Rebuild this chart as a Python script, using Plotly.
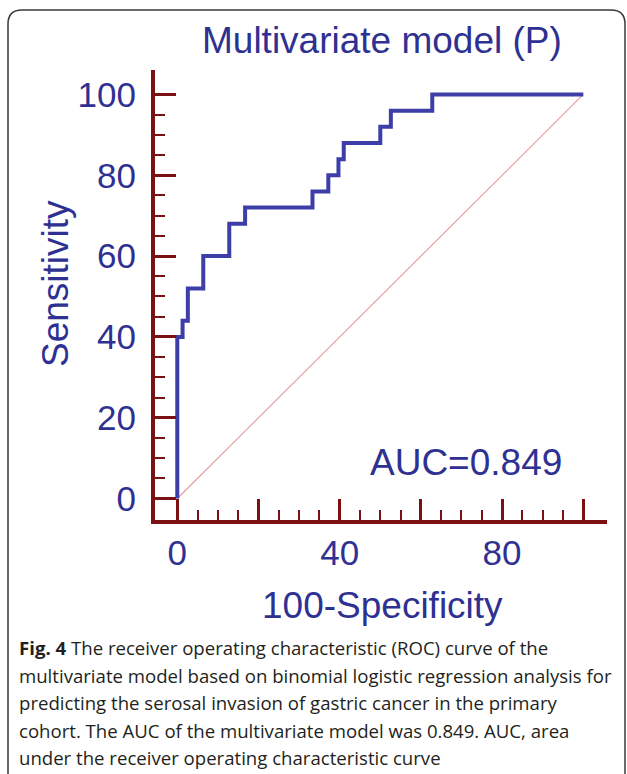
import plotly.graph_objects as go

# ROC step points (100-Specificity, Sensitivity) in %
fpr = [0, 0, 1.3, 2.6, 6.4, 12.8, 16.7, 33.3, 37.2, 39.7, 41.0, 50.0, 52.6, 62.8, 100]
tpr = [0, 40, 44, 52, 60, 68, 72, 76, 80, 84, 88, 92, 96, 100, 100]
diag_x = [0, 100]
diag_y = [0, 100]

major_ticks = [0, 20, 40, 60, 80, 100]
x_tick_text = ["0", "", "40", "", "80", ""]
y_tick_text = ["0", "20", "40", "60", "80", "100"]
minor_ticks = [v for v in range(5, 100, 5) if v % 20 != 0]

title_text = "Multivariate model (P)"
x_title = "100-Specificity"
y_title = "Sensitivity"
auc_text = "AUC=0.849"
caption_lines = [
    "<b>Fig. 4</b> The receiver operating characteristic (ROC) curve of the",
    "multivariate model based on binomial logistic regression analysis for",
    "predicting the serosal invasion of gastric cancer in the primary",
    "cohort. The AUC of the multivariate model was 0.849. AUC, area",
    "under the receiver operating characteristic curve",
]

W, H = 627, 774
AX = "#7B1113"
NAVY = "#2E3192"
FONT = "Liberation Sans, Arial, sans-serif"

def px(x):
    return x / W

def py(y):
    return 1 - y / H

fig = go.Figure()
fig.add_trace(go.Scatter(x=diag_x, y=diag_y, mode="lines",
                         line=dict(color="#E39A9A", width=1.1), hoverinfo="skip"))
fig.add_trace(go.Scatter(x=fpr, y=tpr, mode="lines", line_shape="hv",
                         line=dict(color="#3D3EA7", width=4)))

axis_common = dict(
    showline=True, linecolor=AX, linewidth=4,
    ticks="inside", ticklen=21, tickwidth=3, tickcolor=AX,
    tickvals=major_ticks, showgrid=False, zeroline=False,
    tickfont=dict(family=FONT, size=35, color=NAVY),
    minor=dict(tickvals=minor_ticks, ticks="inside", ticklen=10,
               tickwidth=2, tickcolor=AX, showgrid=False),
    fixedrange=True,
)

fig.update_layout(
    width=W, height=H,
    margin=dict(l=0, r=0, t=0, b=0),
    paper_bgcolor="white", plot_bgcolor="white",
    showlegend=False,
    xaxis=dict(axis_common, domain=[px(155), px(607)], range=[-5.49, 105.84],
               ticktext=x_tick_text, ticklabelstandoff=-1),
    yaxis=dict(axis_common, domain=[py(520), py(70)], range=[-5.32, 106.06],
               ticktext=y_tick_text, ticklabelstandoff=8),
)

ann = [
    dict(text=title_text, x=px(382), y=py(40), font=dict(size=37)),
    dict(text=y_title, x=px(55), y=py(284), textangle=-90, font=dict(size=37)),
    dict(text=x_title, x=px(382), y=py(605), font=dict(size=37)),
]
for a in ann:
    a.update(xref="paper", yref="paper", showarrow=False,
             xanchor="center", yanchor="middle")
    a["font"].update(family=FONT, color=NAVY)
    fig.add_annotation(**a)

fig.add_annotation(text=auc_text, x=71.2, y=8.9, xref="x", yref="y",
                   showarrow=False, xanchor="center", yanchor="middle",
                   font=dict(family=FONT, size=37, color=NAVY))

line_y = [647, 675, 702, 730, 757]
for t, yy in zip(caption_lines, line_y):
    fig.add_annotation(text=t, x=px(17), y=py(yy), xref="paper", yref="paper",
                       showarrow=False, xanchor="left", yanchor="middle",
                       font=dict(family="Open Sans, sans-serif", size=18.6, color="#231F20"))

# rounded border of the figure panel
l, t, r, b, rad = 8, 10, 625, 800, 14
path = (f"M {px(l)},{py(b)} L {px(l)},{py(t+rad)} Q {px(l)},{py(t)} {px(l+rad)},{py(t)} "
        f"L {px(r-rad)},{py(t)} Q {px(r)},{py(t)} {px(r)},{py(t+rad)} L {px(r)},{py(b)}")
fig.add_shape(type="path", path=path, xref="paper", yref="paper",
              line=dict(color="#3A3A3A", width=1.5))

fig.write_html("out.html")
